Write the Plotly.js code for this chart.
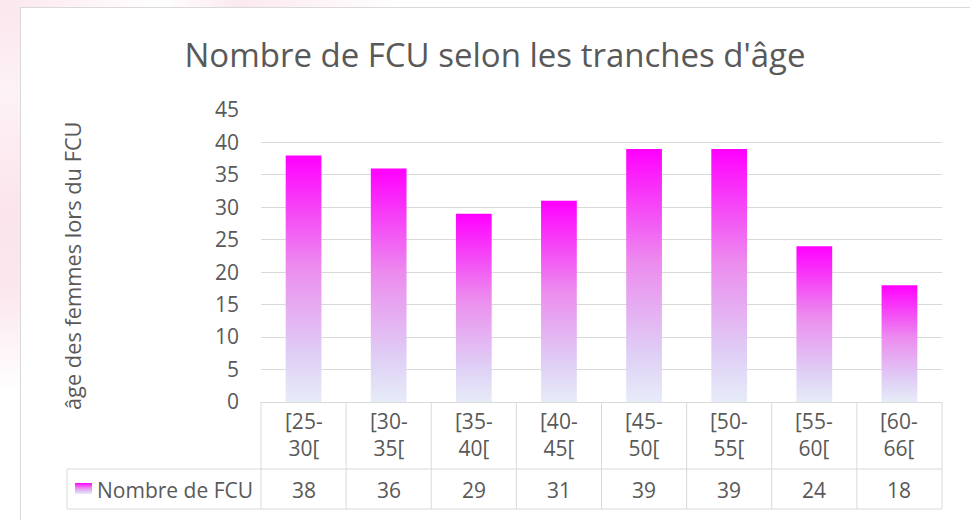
<!DOCTYPE html>
<html>
<head>
<meta charset="utf-8">
<script src="https://cdn.plot.ly/plotly-3.0.1.min.js"></script>
<style>
  html, body { margin:0; padding:0; width:970px; height:520px; overflow:hidden; background:#ffffff; }
  #wash { position:absolute; left:0; top:0; width:20px; height:520px;
    background: linear-gradient(180deg, #fbe6ee 0%, #fdf2f6 18%, #fbe4ec 40%, #fbe6ee 55%, #ffffff 75%, #ffffff 100%); }
  #topwash { position:absolute; left:0; top:0; width:400px; height:7px;
    background: linear-gradient(90deg, #fbe6ee 0%, #ffffff 40%, #fbe9f0 60%, #ffffff 100%); }
  #frame { position:absolute; left:20px; top:7px; width:1000px; height:600px; border:1px solid #d9d9d9; background:#ffffff; }
  #chart { position:absolute; left:0; top:0; width:970px; height:520px; }
</style>
</head>
<body>
<div id="wash"></div>
<div id="topwash"></div>
<div id="frame"></div>
<div id="chart"></div>
<script>
// ---- data ----
const categories = ["[25-30[", "[30-35[", "[35-40[", "[40-45[", "[45-50[", "[50-55[", "[55-60[", "[60-66["];
const categoryLines = [["[25-", "30["], ["[30-", "35["], ["[35-", "40["], ["[40-", "45["], ["[45-", "50["], ["[50-", "55["], ["[55-", "60["], ["[60-", "66["]];
const values = [38, 36, 29, 31, 39, 39, 24, 18];
const seriesName = "Nombre de FCU";
const chartTitle = "Nombre de FCU selon les tranches d'âge";
const yTitle = "âge des femmes lors du FCU";
const yTicks = [0, 5, 10, 15, 20, 25, 30, 35, 40, 45];

// ---- layout helpers (pixels -> paper) ----
const W = 970, H = 520;
const mL = 261, mR = 28, mT = 110, mB = 118;
const pw = W - mL - mR, ph = H - mT - mB;
const px = x => (x - mL) / pw;
const py = y => (H - mB - y) / ph;
const txt = '#595959', grid = '#d9d9d9', FONT = 'Open Sans, sans-serif';

const n = categories.length;
const shapes = [];
const annotations = [];

// table vertical lines at category boundaries
for (let k = 0; k <= n; k++) {
  shapes.push({type:'line', xref:'paper', yref:'paper', x0:k/n, x1:k/n, y0:0, y1:py(509), line:{color:grid, width:1}});
}
// horizontal lines
shapes.push({type:'line', xref:'paper', yref:'paper', x0:px(67), x1:1, y0:py(469), y1:py(469), line:{color:grid, width:1}});
shapes.push({type:'line', xref:'paper', yref:'paper', x0:px(67), x1:1, y0:py(509), y1:py(509), line:{color:grid, width:1}});
shapes.push({type:'line', xref:'paper', yref:'paper', x0:px(67), x1:px(67), y0:py(469), y1:py(509), line:{color:grid, width:1}});
// legend key square
shapes.push({type:'rect', xref:'paper', yref:'paper', x0:px(75), x1:px(92), y0:py(483), y1:py(494), line:{width:0}, fillcolor:'#ff00ff', name:'legendkey'});

// header cells and value cells
categories.forEach((c, i) => {
  annotations.push({xref:'x', yref:'paper', x:c, y:py(434), yanchor:'middle', xanchor:'center', showarrow:false,
    text: categoryLines[i].join('<br>'), font:{family:FONT, size:21, color:txt}});
  annotations.push({xref:'x', yref:'paper', x:c, y:py(490), yanchor:'middle', xanchor:'center', showarrow:false,
    text: String(values[i]), font:{family:FONT, size:21, color:txt}});
});
annotations.push({xref:'paper', yref:'paper', x:px(95), y:py(490), xanchor:'left', yanchor:'middle', showarrow:false,
  text: seriesName, font:{family:FONT, size:21, color:txt}});
annotations.push({xref:'paper', yref:'paper', x:px(72), y:py(266), xanchor:'center', yanchor:'middle', showarrow:false,
  textangle:-90, text: yTitle, font:{family:FONT, size:21.8, color:txt}});

const trace = {
  type:'bar', x:categories, y:values, name:seriesName,
  marker:{color:'#ff00ff', line:{width:0}}, width:0.42, hoverinfo:'x+y'
};

const layout = {
  width:W, height:H,
  margin:{l:mL, r:mR, t:mT, b:mB, pad:0},
  paper_bgcolor:'rgba(0,0,0,0)', plot_bgcolor:'rgba(0,0,0,0)',
  showlegend:false,
  title:{text:chartTitle, font:{family:FONT, size:33, color:txt}, xref:'paper', x:px(495), xanchor:'center', yref:'container', y:1-55/H, yanchor:'middle'},
  xaxis:{type:'category', showticklabels:false, showgrid:false, zeroline:false, showline:false, ticks:'', range:[-0.5, n-0.5], fixedrange:true},
  yaxis:{range:[0,45], tickvals:yTicks, showgrid:true, gridcolor:grid, gridwidth:1, zeroline:true, zerolinecolor:grid, zerolinewidth:1,
    showline:false, ticks:'', ticklabelstandoff:21, tickfont:{family:FONT, size:21, color:txt}, fixedrange:true},
  shapes:shapes, annotations:annotations
};

Plotly.newPlot('chart', [trace], layout, {staticPlot:true, displayModeBar:false}).then(gd => {
  const svg = gd.querySelector('.main-svg');
  let defs = svg.querySelector('defs');
  if (!defs) { defs = document.createElementNS('http://www.w3.org/2000/svg','defs'); svg.insertBefore(defs, svg.firstChild); }
  const g = document.createElementNS('http://www.w3.org/2000/svg','linearGradient');
  g.setAttribute('id','fcuGrad'); g.setAttribute('x1','0'); g.setAttribute('y1','0'); g.setAttribute('x2','0'); g.setAttribute('y2','1');
  [['0%','#ff00ff'],['45%','#ec8cee'],['80%','#dfcdf5'],['100%','#e6ecf8']].forEach(([o,c]) => {
    const s = document.createElementNS('http://www.w3.org/2000/svg','stop');
    s.setAttribute('offset',o); s.setAttribute('stop-color',c); g.appendChild(s);
  });
  defs.appendChild(g);
  gd.querySelectorAll('.trace.bars .point path').forEach(p => { p.style.fill = 'url(#fcuGrad)'; });
  gd.querySelectorAll('.shapelayer path').forEach(p => {
    if (p.style.fill && p.style.fill.indexOf('255, 0, 255') >= 0) p.style.fill = 'url(#fcuGrad)';
  });
});
</script>
</body>
</html>
